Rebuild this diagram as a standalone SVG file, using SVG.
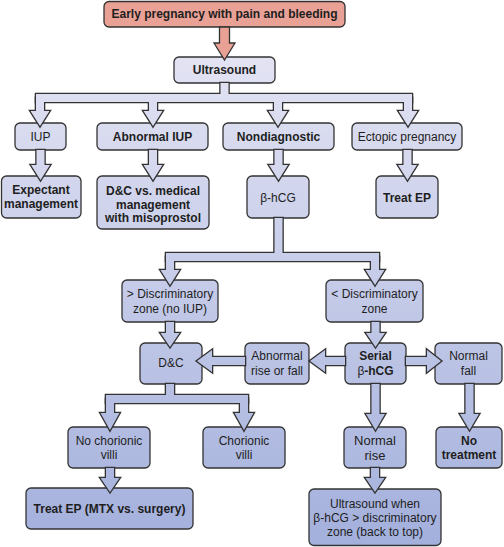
<svg xmlns="http://www.w3.org/2000/svg" xmlns:xlink="http://www.w3.org/1999/xlink" width="504" height="547" viewBox="0 0 504 547">
<defs>
<linearGradient id="bg" gradientUnits="userSpaceOnUse" x1="0" y1="55" x2="0" y2="545">
<stop offset="0" stop-color="#e3e3f3"/>
<stop offset="1" stop-color="#a3b0dc"/>
</linearGradient>
<style>
.box{fill:url(#bg);stroke:#333;stroke-width:1.3}
.start{fill:#e9a196;stroke:#333;stroke-width:1.3}
text{font-family:"Liberation Sans",Arial,sans-serif;font-size:12px;fill:#1e1e1e;text-anchor:middle}
.b{font-weight:bold}
.n{font-weight:normal}
.ol use{fill:#333;stroke:#333;stroke-width:2.6;stroke-linejoin:miter}
.fl use{fill:url(#bg);stroke:none}
.top{fill:#e9a196;stroke:#333;stroke-width:1.3}
</style>
<path id="c1" d="M220.5,83 H228.5 V98 H220.5 Z"/>
<path id="c2" d="M36,94 H412 V102 H36 Z"/>
<path id="c3" d="M36,98 H44 V111 H49.5 L40,126 L30.5,111 H36 Z"/>
<path id="c4" d="M149,98 H157 V111 H162.5 L153,126 L143.5,111 H149 Z"/>
<path id="c5" d="M274,98 H282 V111 H287.5 L278,126 L268.5,111 H274 Z"/>
<path id="c6" d="M404,98 H412 V111 H417.5 L408,126 L398.5,111 H404 Z"/>
<path id="c7" d="M36.5,150 H44.5 V165 H50 L40.5,180 L31,165 H36.5 Z"/>
<path id="c8" d="M149,150 H157 V165 H162.5 L153,180 L143.5,165 H149 Z"/>
<path id="c9" d="M274.5,150 H282.5 V165 H288 L278.5,180 L269,165 H274.5 Z"/>
<path id="c10" d="M403.5,150 H411.5 V165 H417 L407.5,180 L398,165 H403.5 Z"/>
<path id="c11" d="M274.5,218 H282.5 V257 H274.5 Z"/>
<path id="c12" d="M166,253 H379 V261 H166 Z"/>
<path id="c13" d="M166,257 H174 V270 H179.5 L170,285 L160.5,270 H166 Z"/>
<path id="c14" d="M371,257 H379 V270 H384.5 L375,285 L365.5,270 H371 Z"/>
<path id="c15" d="M166,322 H174 V333 H179.5 L170,347 L160.5,333 H166 Z"/>
<path id="c16" d="M371.5,322 H379.5 V333 H385 L375.5,347 L366,333 H371.5 Z"/>
<path id="c17" d="M345,357 H325 V350 L310,361 L325,372 V365 H345 Z"/>
<path id="c18" d="M245,357 H212 V350 L197,361 L212,372 V365 H245 Z"/>
<path id="c19" d="M406,357 H427 V350 L441,361 L427,372 V365 H406 Z"/>
<path id="c20" d="M166,384 H174 V399 H166 Z"/>
<path id="c21" d="M106,395 H248 V403 H106 Z"/>
<path id="c22" d="M106,399 H114 V413 H119.5 L110,430 L100.5,413 H106 Z"/>
<path id="c23" d="M240,399 H248 V413 H253.5 L244,430 L234.5,413 H240 Z"/>
<path id="c24" d="M371.5,384 H379.5 V414 H385 L375.5,430 L366,414 H371.5 Z"/>
<path id="c25" d="M465.5,384 H473.5 V414 H479 L469.5,430 L460,414 H465.5 Z"/>
<path id="c26" d="M106,468 H114 V478 H119.5 L110,492 L100.5,478 H106 Z"/>
<path id="c27" d="M371,468 H379 V478 H384.5 L375,492 L365.5,478 H371 Z"/>
</defs>

<g id="n-start"><rect class="start" x="104" y="1.5" width="241" height="25.5" rx="5"/><text class="b" x="224.5" y="18">Early pregnancy with pain and bleeding</text></g>
<g id="n-ultrasound"><rect class="box" x="174" y="57" width="101" height="26" rx="5"/><text class="b" x="224.5" y="74">Ultrasound</text></g>
<g id="n-iup"><rect class="box" x="15" y="123" width="51" height="27" rx="5"/><text x="40.5" y="141">IUP</text></g>
<g id="n-abiup"><rect class="box" x="97" y="123" width="111" height="27" rx="5"/><text class="b" x="152.5" y="141">Abnormal IUP</text></g>
<g id="n-nondiag"><rect class="box" x="223" y="123" width="111" height="27" rx="5"/><text class="b" x="278.5" y="141">Nondiagnostic</text></g>
<g id="n-ectopic"><rect class="box" x="352" y="123" width="110" height="27" rx="5"/><text x="407" y="141">Ectopic pregnancy</text></g>
<g id="n-expectant"><rect class="box" x="1.5" y="176" width="79.5" height="42" rx="5"/><text class="b" x="41" y="194">Expectant</text><text class="b" x="41" y="208">management</text></g>
<g id="n-dcmed"><rect class="box" x="97" y="176" width="112" height="53" rx="5"/><text class="b" x="153" y="195">D&amp;C vs. medical</text><text class="b" x="153" y="208.5">management</text><text class="b" x="153" y="222">with misoprostol</text></g>
<g id="n-bhcg"><rect class="box" x="247" y="176" width="62" height="42" rx="5"/><text x="278" y="202">β-hCG</text></g>
<g id="n-treatep1"><rect class="box" x="376" y="176" width="62" height="42" rx="5"/><text class="b" x="407" y="202">Treat EP</text></g>
<g id="n-gtdz"><rect class="box" x="122" y="280" width="96" height="42" rx="5"/><text x="170" y="298">&gt; Discriminatory</text><text x="170" y="313">zone (no IUP)</text></g>
<g id="n-ltdz"><rect class="box" x="326" y="280" width="97" height="42" rx="5"/><text x="374.5" y="298">&lt; Discriminatory</text><text x="374.5" y="313">zone</text></g>
<g id="n-dc"><rect class="box" x="140" y="343" width="62" height="41" rx="5"/><text x="171" y="367">D&amp;C</text></g>
<g id="n-abrise"><rect class="box" x="245" y="343" width="64" height="41" rx="5"/><text x="277" y="360">Abnormal</text><text x="277" y="375">rise or fall</text></g>
<g id="n-serial"><rect class="box" x="345" y="343" width="61" height="41" rx="5"/><text class="b" x="375.5" y="360">Serial</text><text x="375.5" y="375"><tspan class="n">β</tspan><tspan class="b">-hCG</tspan></text></g>
<g id="n-normfall"><rect class="box" x="435" y="343" width="67" height="41" rx="5"/><text x="468.5" y="360">Normal</text><text x="468.5" y="375">fall</text></g>
<g id="n-nochor"><rect class="box" x="68" y="427" width="82" height="41" rx="5"/><text x="109" y="445">No chorionic</text><text x="109" y="459">villi</text></g>
<g id="n-chor"><rect class="box" x="203" y="427" width="82" height="41" rx="5"/><text x="244" y="445">Chorionic</text><text x="244" y="459">villi</text></g>
<g id="n-normrise"><rect class="box" x="344" y="427" width="62" height="41" rx="5"/><text x="375" y="445" style="font-size:13px">Normal</text><text x="375" y="459.5" style="font-size:13px">rise</text></g>
<g id="n-notreat"><rect class="box" x="436" y="427" width="66" height="41" rx="5"/><text class="b" x="469" y="445">No</text><text class="b" x="469" y="459">treatment</text></g>
<g id="n-treatep2"><rect class="box" x="26" y="488" width="167" height="41" rx="5"/><text class="b" x="109.5" y="513">Treat EP (MTX vs. surgery)</text></g>
<g id="n-uswhen"><rect class="box" x="309" y="489" width="132" height="56.5" rx="5"/><text x="375" y="508">Ultrasound when</text><text x="375" y="522">β-hCG &gt; discriminatory</text><text x="375" y="536">zone (back to top)</text></g>

<g id="connectors">
<path class="top" d="M219.5,27 H229.5 V43 H235 L224.5,60 L214,43 H219.5 Z"/>
<g class="ol">
<use xlink:href="#c1"/><use xlink:href="#c2"/><use xlink:href="#c3"/><use xlink:href="#c4"/><use xlink:href="#c5"/><use xlink:href="#c6"/><use xlink:href="#c7"/><use xlink:href="#c8"/><use xlink:href="#c9"/><use xlink:href="#c10"/><use xlink:href="#c11"/><use xlink:href="#c12"/><use xlink:href="#c13"/><use xlink:href="#c14"/><use xlink:href="#c15"/><use xlink:href="#c16"/><use xlink:href="#c17"/><use xlink:href="#c18"/><use xlink:href="#c19"/><use xlink:href="#c20"/><use xlink:href="#c21"/><use xlink:href="#c22"/><use xlink:href="#c23"/><use xlink:href="#c24"/><use xlink:href="#c25"/><use xlink:href="#c26"/><use xlink:href="#c27"/>
</g>
<g class="fl">
<use xlink:href="#c1"/><use xlink:href="#c2"/><use xlink:href="#c3"/><use xlink:href="#c4"/><use xlink:href="#c5"/><use xlink:href="#c6"/><use xlink:href="#c7"/><use xlink:href="#c8"/><use xlink:href="#c9"/><use xlink:href="#c10"/><use xlink:href="#c11"/><use xlink:href="#c12"/><use xlink:href="#c13"/><use xlink:href="#c14"/><use xlink:href="#c15"/><use xlink:href="#c16"/><use xlink:href="#c17"/><use xlink:href="#c18"/><use xlink:href="#c19"/><use xlink:href="#c20"/><use xlink:href="#c21"/><use xlink:href="#c22"/><use xlink:href="#c23"/><use xlink:href="#c24"/><use xlink:href="#c25"/><use xlink:href="#c26"/><use xlink:href="#c27"/>
</g>
</g>
</svg>
